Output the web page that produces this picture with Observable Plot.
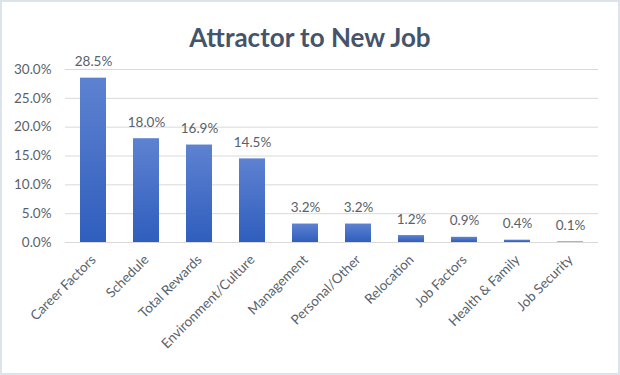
<!DOCTYPE html>
<html><head><meta charset="utf-8">
<script src="https://cdn.jsdelivr.net/npm/d3@7"></script>
<script src="https://cdn.jsdelivr.net/npm/@observablehq/plot@0.6"></script>
<style>
body{margin:0;background:#fff;}
#wrap{position:relative;width:620px;height:375px;overflow:hidden;font-family:Lato,"Open Sans",sans-serif;}
#frame{position:absolute;left:0;top:0;width:616px;height:371px;border:2px solid #dde3ea;pointer-events:none;}
#title{position:absolute;left:0;top:22px;width:620px;text-align:center;font-size:26px;font-weight:bold;color:#44546a;line-height:30px;}
#chart{position:absolute;left:0;top:50px;}
</style></head>
<body><div id="wrap"><div id="title">Attractor to New Job</div><div id="chart"></div><div id="frame"></div></div>
<script>
const categories = ["Career Factors","Schedule","Total Rewards","Environment/Culture","Management","Personal/Other","Relocation","Job Factors","Health & Family","Job Security"];
const values = [28.5, 18.0, 16.9, 14.5, 3.2, 3.2, 1.2, 0.9, 0.4, 0.1];
const yTicks = [0, 5, 10, 15, 20, 25, 30];
const data = categories.map((c, i) => ({category: c, value: values[i]}));

const defs = () => {
  const d = d3.create("svg:defs");
  const g = d.append("linearGradient").attr("id", "barGrad").attr("x1", 0).attr("y1", 0).attr("x2", 0).attr("y2", 1);
  g.append("stop").attr("offset", "0%").attr("stop-color", "#5e82d1");
  g.append("stop").attr("offset", "100%").attr("stop-color", "#2f5ebd");
  return d.node();
};

const txt = "#595f6b";
const chart = Plot.plot({
  width: 620,
  height: 320,
  marginTop: 19,
  marginBottom: 128,
  marginLeft: 65,
  marginRight: 22,
  style: {fontFamily: "Lato, 'Open Sans', sans-serif", fontSize: "13px", color: txt, background: "transparent"},
  x: {domain: categories, paddingInner: 0.51, paddingOuter: 0.255, label: null},
  y: {domain: [0, 30], label: null},
  marks: [
    defs,
    Plot.gridY(yTicks, {stroke: "#d9d9d9", strokeOpacity: 1, strokeWidth: 1}),
    Plot.barY(data, {x: "category", y: "value", fill: "url(#barGrad)"}),
    Plot.ruleY([0], {stroke: "#d9d9d9", strokeWidth: 1}),
    Plot.text(data, {x: "category", y: "value", text: d => d.value.toFixed(1) + "%", dy: -12, lineAnchor: "bottom", fill: txt, fontSize: 13.5}),
    Plot.axisY(yTicks, {tickSize: 0, tickPadding: 14, tickFormat: d => d.toFixed(1) + "%", fill: txt, fontSize: 13.5}),
    Plot.axisX({tickSize: 0, tickPadding: 15, tickRotate: -45, fill: txt, fontSize: 13.5, label: null})
  ]
});
document.getElementById("chart").appendChild(chart);
</script></body></html>
